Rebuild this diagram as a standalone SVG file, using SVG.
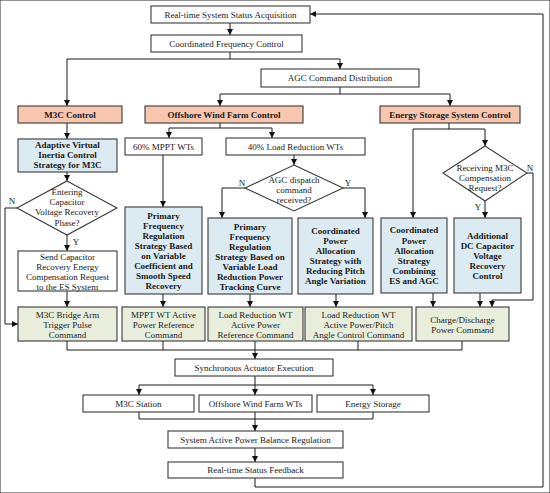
<svg xmlns="http://www.w3.org/2000/svg" width="550" height="493" viewBox="0 0 550 493">
<defs>
<marker id="ah" markerWidth="6" markerHeight="6" refX="6" refY="3" orient="auto" markerUnits="userSpaceOnUse">
<path d="M0,0 L6,3 L0,6 Z" fill="#111"/>
</marker>
<style>
rect, polygon { stroke:#3a3a3a; stroke-width:1.1; }
.w { fill:#ffffff; }
.o { fill:#f8c6ae; }
.b { fill:#dcebf2; }
.g { fill:#e9eedc; }
text { font-family:"Liberation Serif", "Times New Roman", serif; font-size:9px; fill:#1a1a1a; text-anchor:middle; }
.bt { font-weight:bold; }
#connectors path { fill:none; stroke:#1a1a1a; stroke-width:1; }
.ar { marker-end:url(#ah); }
</style>
</defs>
<rect x="0" y="0" width="550" height="493" fill="#ffffff" stroke="none"/>

<g id="connectors">
<path class="ar" d="M255,478 V487 H543 V14 H310"/>
<path class="ar" d="M230,23 V35"/>
<path d="M230,52 V59 M67,59 H340"/>
<path class="ar" d="M67,59 V106"/>
<path class="ar" d="M340,59 V69"/>
<path d="M340,87 V94 M220,94 H450"/>
<path class="ar" d="M220,94 V106"/>
<path class="ar" d="M450,94 V106"/>
<path class="ar" d="M67,123 V139"/>
<path class="ar" d="M67,172 V181"/>
<path class="ar" d="M17,208 H5 V324 H18"/>
<path class="ar" d="M67,235 V251"/>
<path class="ar" d="M67,291 V307"/>
<path d="M220,123 V128 M169,128 H272"/>
<path class="ar" d="M169,128 V138"/>
<path class="ar" d="M272,128 V138"/>
<path class="ar" d="M163,155 V207"/>
<path class="ar" d="M294,155 V165"/>
<path class="ar" d="M245,188 H222 V218"/>
<path class="ar" d="M343,188 H365 V218"/>
<path class="ar" d="M163,294 V307"/>
<path class="ar" d="M250,294 V307"/>
<path class="ar" d="M336,294 V307"/>
<path d="M449,123 V129 M413,129 H485"/>
<path class="ar" d="M413,129 V218"/>
<path class="ar" d="M485,129 V146"/>
<path class="ar" d="M485,201 V218"/>
<path class="ar" d="M527,173 H533 V300 H492 V307"/>
<path class="ar" d="M433,293 V307"/>
<path class="ar" d="M480,293 V307"/>
<path d="M67,341 V350 H462 M163,341 V350 M255,341 V350 M358,341 V350 M462,341 V350"/>
<path class="ar" d="M255,350 V359"/>
<path d="M255,376 V385 M139,385 H373"/>
<path class="ar" d="M139,385 V395"/>
<path class="ar" d="M255,385 V395"/>
<path class="ar" d="M373,385 V395"/>
<path d="M139,412 V419 H373 V412"/>
<path class="ar" d="M255,412 V431"/>
<path class="ar" d="M255,448 V462"/>
</g>

<g id="acq"><rect class="w" x="151" y="6" width="159" height="17"/><text x="230.5" y="17.5">Real-time System Status Acquisition</text></g>
<g id="cfc"><rect class="w" x="151" y="35" width="151" height="17"/><text x="226.5" y="46.5">Coordinated Frequency Control</text></g>
<g id="agc"><rect class="w" x="261" y="69" width="158" height="18"/><text x="340" y="81">AGC Command Distribution</text></g>

<g id="m3c"><rect class="o" x="18" y="106" width="104" height="17"/><text class="bt" x="70" y="117.5">M3C Control</text></g>
<g id="owf"><rect class="o" x="145" y="106" width="158" height="17"/><text class="bt" x="224" y="117.5">Offshore Wind Farm Control</text></g>
<g id="ess"><rect class="o" x="380" y="106" width="140" height="17"/><text class="bt" x="450" y="117.5">Energy Storage System Control</text></g>

<g id="avi"><rect class="b" x="18" y="139" width="99" height="33"/>
<text class="bt" x="67.5" y="148">Adaptive Virtual</text>
<text class="bt" x="67.5" y="158">Inertia Control</text>
<text class="bt" x="67.5" y="168">Strategy for M3C</text></g>

<g id="d1"><polygon class="w" points="67,181 117,208 67,235 17,208"/>
<text x="67" y="195">Entering</text>
<text x="67" y="205">Capacitor</text>
<text x="67" y="215">Voltage Recovery</text>
<text x="67" y="226">Phase?</text></g>
<g id="lbl"><text x="12" y="204">N</text><text x="76" y="245">Y</text>
<text x="242" y="186">N</text><text x="348" y="186">Y</text>
<text x="530" y="171">N</text><text x="478" y="210">Y</text></g>

<g id="send"><rect class="w" x="18" y="251" width="99" height="40"/>
<text x="67.5" y="260">Send Capacitor</text>
<text x="67.5" y="270">Recovery Energy</text>
<text x="67.5" y="280">Compensation Request</text>
<text x="67.5" y="290">to the ES System</text></g>

<g id="bridge"><rect class="g" x="18" y="307" width="99" height="34"/>
<text x="67.5" y="318">M3C Bridge Arm</text>
<text x="67.5" y="328">Trigger Pulse</text>
<text x="67.5" y="338">Command</text></g>

<g id="mppt60"><rect class="w" x="125" y="138" width="77" height="17"/><text x="163.5" y="149.5">60% MPPT WTs</text></g>
<g id="lr40"><rect class="w" x="226" y="138" width="139" height="17"/><text x="295.5" y="149.5">40% Load Reduction WTs</text></g>

<g id="pfr1"><rect class="b" x="125" y="207" width="77" height="87"/>
<text class="bt" x="163.5" y="219">Primary</text>
<text class="bt" x="163.5" y="229">Frequency</text>
<text class="bt" x="163.5" y="239">Regulation</text>
<text class="bt" x="163.5" y="249">Strategy Based</text>
<text class="bt" x="163.5" y="259">on Variable</text>
<text class="bt" x="163.5" y="269">Coefficient and</text>
<text class="bt" x="163.5" y="279">Smooth Speed</text>
<text class="bt" x="163.5" y="289">Recovery</text></g>

<g id="d2"><polygon class="w" points="294,165 343,188 294,211 245,188"/>
<text x="294" y="183">AGC dispatch</text>
<text x="294" y="193">command</text>
<text x="294" y="203">received?</text></g>

<g id="pfr2"><rect class="b" x="208" y="218" width="84" height="76"/>
<text class="bt" x="250" y="230">Primary</text>
<text class="bt" x="250" y="240">Frequency</text>
<text class="bt" x="250" y="250">Regulation</text>
<text class="bt" x="250" y="260">Strategy Based on</text>
<text class="bt" x="250" y="270">Variable Load</text>
<text class="bt" x="250" y="280">Reduction Power</text>
<text class="bt" x="250" y="290">Tracking Curve</text></g>

<g id="cpa1"><rect class="b" x="298" y="218" width="75" height="76"/>
<text class="bt" x="335.5" y="234">Coordinated</text>
<text class="bt" x="335.5" y="244">Power</text>
<text class="bt" x="335.5" y="254">Allocation</text>
<text class="bt" x="335.5" y="264">Strategy with</text>
<text class="bt" x="335.5" y="274">Reducing Pitch</text>
<text class="bt" x="335.5" y="284">Angle Variation</text></g>

<g id="d3"><polygon class="w" points="485,146 527,173 485,201 443,173"/>
<text x="485" y="171">Receiving M3C</text>
<text x="485" y="181">Compensation</text>
<text x="485" y="191">Request?</text></g>

<g id="cpa2"><rect class="b" x="381" y="218" width="66" height="75"/>
<text class="bt" x="414" y="233">Coordinated</text>
<text class="bt" x="414" y="244">Power</text>
<text class="bt" x="414" y="254">Allocation</text>
<text class="bt" x="414" y="264">Strategy</text>
<text class="bt" x="414" y="274">Combining</text>
<text class="bt" x="414" y="284">ES and AGC</text></g>

<g id="dc"><rect class="b" x="454" y="218" width="67" height="75"/>
<text class="bt" x="487.5" y="239">Additional</text>
<text class="bt" x="487.5" y="249">DC Capacitor</text>
<text class="bt" x="487.5" y="259">Voltage</text>
<text class="bt" x="487.5" y="269">Recovery</text>
<text class="bt" x="487.5" y="279">Control</text></g>

<g id="cmd_mppt"><rect class="g" x="122" y="307" width="83" height="34"/>
<text x="163.5" y="318">MPPT WT Active</text>
<text x="163.5" y="328">Power Reference</text>
<text x="163.5" y="338">Command</text></g>
<g id="cmd_lr"><rect class="g" x="208" y="307" width="95" height="34"/>
<text x="255.5" y="318">Load Reduction WT</text>
<text x="255.5" y="328">Active Power</text>
<text x="255.5" y="338">Reference Command</text></g>
<g id="cmd_pitch"><rect class="g" x="305" y="307" width="107" height="34"/>
<text x="358.5" y="318">Load Reduction WT</text>
<text x="358.5" y="328">Active Power/Pitch</text>
<text x="358.5" y="338">Angle Control Command</text></g>
<g id="cmd_cd"><rect class="g" x="416" y="307" width="93" height="34"/>
<text x="462.5" y="323">Charge/Discharge</text>
<text x="462.5" y="333">Power Command</text></g>

<g id="sync"><rect class="w" x="175" y="359" width="158" height="17"/><text x="254" y="370.5">Synchronous Actuator Execution</text></g>
<g id="st1"><rect class="w" x="83" y="395" width="111" height="17"/><text x="138.5" y="406.5">M3C Station</text></g>
<g id="st2"><rect class="w" x="199" y="395" width="113" height="17"/><text x="255.5" y="406.5">Offshore Wind Farm WTs</text></g>
<g id="st3"><rect class="w" x="317" y="395" width="112" height="17"/><text x="373" y="406.5">Energy Storage</text></g>
<g id="bal"><rect class="w" x="168" y="431" width="175" height="17"/><text x="255.5" y="442.5">System Active Power Balance Regulation</text></g>
<g id="fb"><rect class="w" x="168" y="462" width="175" height="16"/><text x="255.5" y="473">Real-time Status Feedback</text></g>
</svg>
